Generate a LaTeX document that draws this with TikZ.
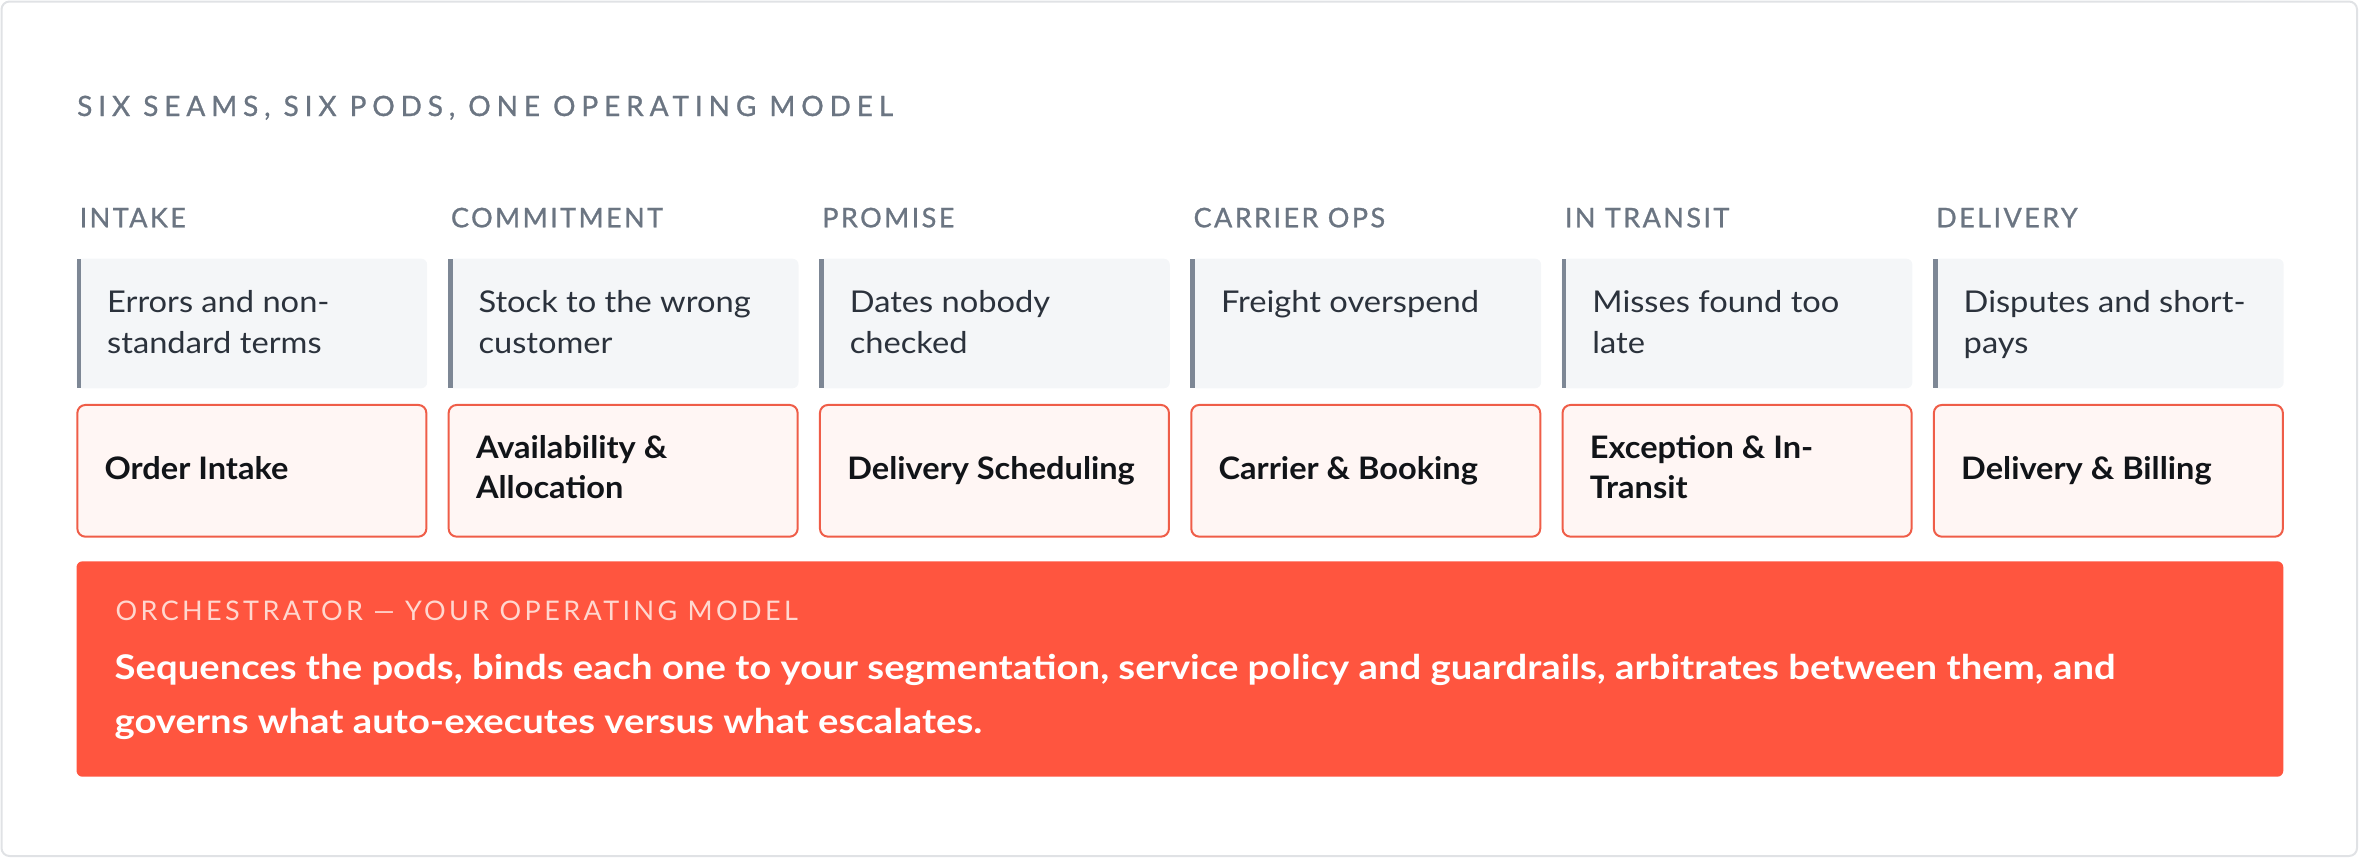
\documentclass[tikz,border=0pt]{standalone}
\usepackage{fontspec}
\setmainfont{Lato}
\newfontfamily\titlefont[LetterSpace=21,FakeBold=1.0]{Lato}
\newfontfamily\trackfont[LetterSpace=9,FakeBold=1.0]{Lato}
\newfontfamily\trackfontlight[LetterSpace=12.5]{Lato}
\newfontfamily\seamfont[FakeStretch=1.088]{Lato}
\newfontfamily\podfont[FakeStretch=1.05]{Lato}
\newfontfamily\bodyfont[FakeStretch=1.125]{Lato}
\definecolor{framec}{HTML}{E0E2E5}
\definecolor{graytext}{HTML}{6B7582}
\definecolor{seamfill}{HTML}{F4F6F8}
\definecolor{barc}{HTML}{7D8795}
\definecolor{seamtextc}{HTML}{2B323C}
\definecolor{podfill}{HTML}{FFF6F4}
\definecolor{podborder}{HTML}{EF5D48}
\definecolor{podtextc}{HTML}{111418}
\definecolor{orchfill}{HTML}{FF553F}
\definecolor{orchlabel}{HTML}{FFD7CF}
\newcommand{\twoline}[2]{\vtop{\hbox{#1}\hbox{#2}}}
\tikzset{
  titletext/.style={inner sep=0pt, anchor=base west, text=graytext, font=\titlefont\fontsize{28}{34}\selectfont},
  headtext/.style={inner sep=0pt, anchor=base west, text=graytext, font=\trackfont\fontsize{27}{34}\selectfont},
  seamtext/.style={inner sep=0pt, anchor=base west, text=seamtextc, font=\seamfont\fontsize{30}{40.7}\selectfont},
  podbox/.style={draw=podborder, fill=podfill, line width=2pt, rounded corners=8pt, minimum width=349pt, minimum height=131.7pt, inner sep=0pt},
  podtext/.style={inner sep=0pt, anchor=base west, text=podtextc, font=\podfont\bfseries\fontsize{31}{40.4}\selectfont},
  orchbox/.style={fill=orchfill, rounded corners=6pt, minimum width=2206.8pt, minimum height=215.4pt, inner sep=0pt},
  orchlabeltext/.style={inner sep=0pt, anchor=base west, text=orchlabel, font=\trackfontlight\fontsize{27}{34}\selectfont},
  orchbody/.style={inner sep=0pt, anchor=base west, text=white, font=\bodyfont\bfseries\fontsize{34}{54}\selectfont},
}
\begin{document}
\begin{tikzpicture}[x=1pt,y=-1pt]
\useasboundingbox (0,0) rectangle (2360,860);
\draw[framec, line width=2pt, rounded corners=8pt] (1.5,1.5) rectangle (2357,856);
\node[titletext] (title) at (77,116) {SIX SEAMS, SIX PODS, ONE OPERATING MODEL};
\foreach \i/\head/\sa/\sb/\pa/\pb in {
  0/INTAKE/Errors and non-/standard terms/Order Intake/,
  1/COMMITMENT/Stock to the wrong/customer/Availability \&/Allocation,
  2/PROMISE/Dates nobody/checked/Delivery Scheduling/,
  3/CARRIER OPS/Freight overspend//Carrier \& Booking/,
  4/IN TRANSIT/Misses found too/late/Exception \& In-/Transit,
  5/DELIVERY/Disputes and short-/pays/Delivery \& Billing/}{
  \pgfmathsetmacro{\L}{76.5+371.3*\i}
  \node[headtext] (h\i) at (\L+3,227.3) {\head};
  \fill[seamfill, rounded corners=6pt] (\L,258.7) rectangle (\L+350.7,388.3);
  \fill[seamfill] (\L,258.7) rectangle (\L+20,388.3);
  \fill[barc] (\L,258.7) rectangle (\L+4.7,388.3);
  \node[seamtext] (s\i) at (\L+30.5,312.7) {\twoline{\sa}{\sb}};
  \node[podbox] (p\i) at (\L+175.35,470.8) {};
  \ifx\pb\empty
    \node[podtext] (pt\i) at (\L+28,479.3) {\pa};
  \else
    \node[podtext] (pt\i) at (\L+28,458) {\twoline{\pa}{\pb}};
  \fi
}
\node[orchbox] (orch) at (1179.9,669) {};
\node[orchlabeltext] (orchl) at (115.5,620.7) {ORCHESTRATOR — YOUR OPERATING MODEL};
\node[orchbody] (orchb) at (114.5,679.3) {\twoline{Sequences the pods, binds each one to your segmentation, service policy and guardrails, arbitrates between them, and}{governs what auto-executes versus what escalates.}};
\end{tikzpicture}
\end{document}
